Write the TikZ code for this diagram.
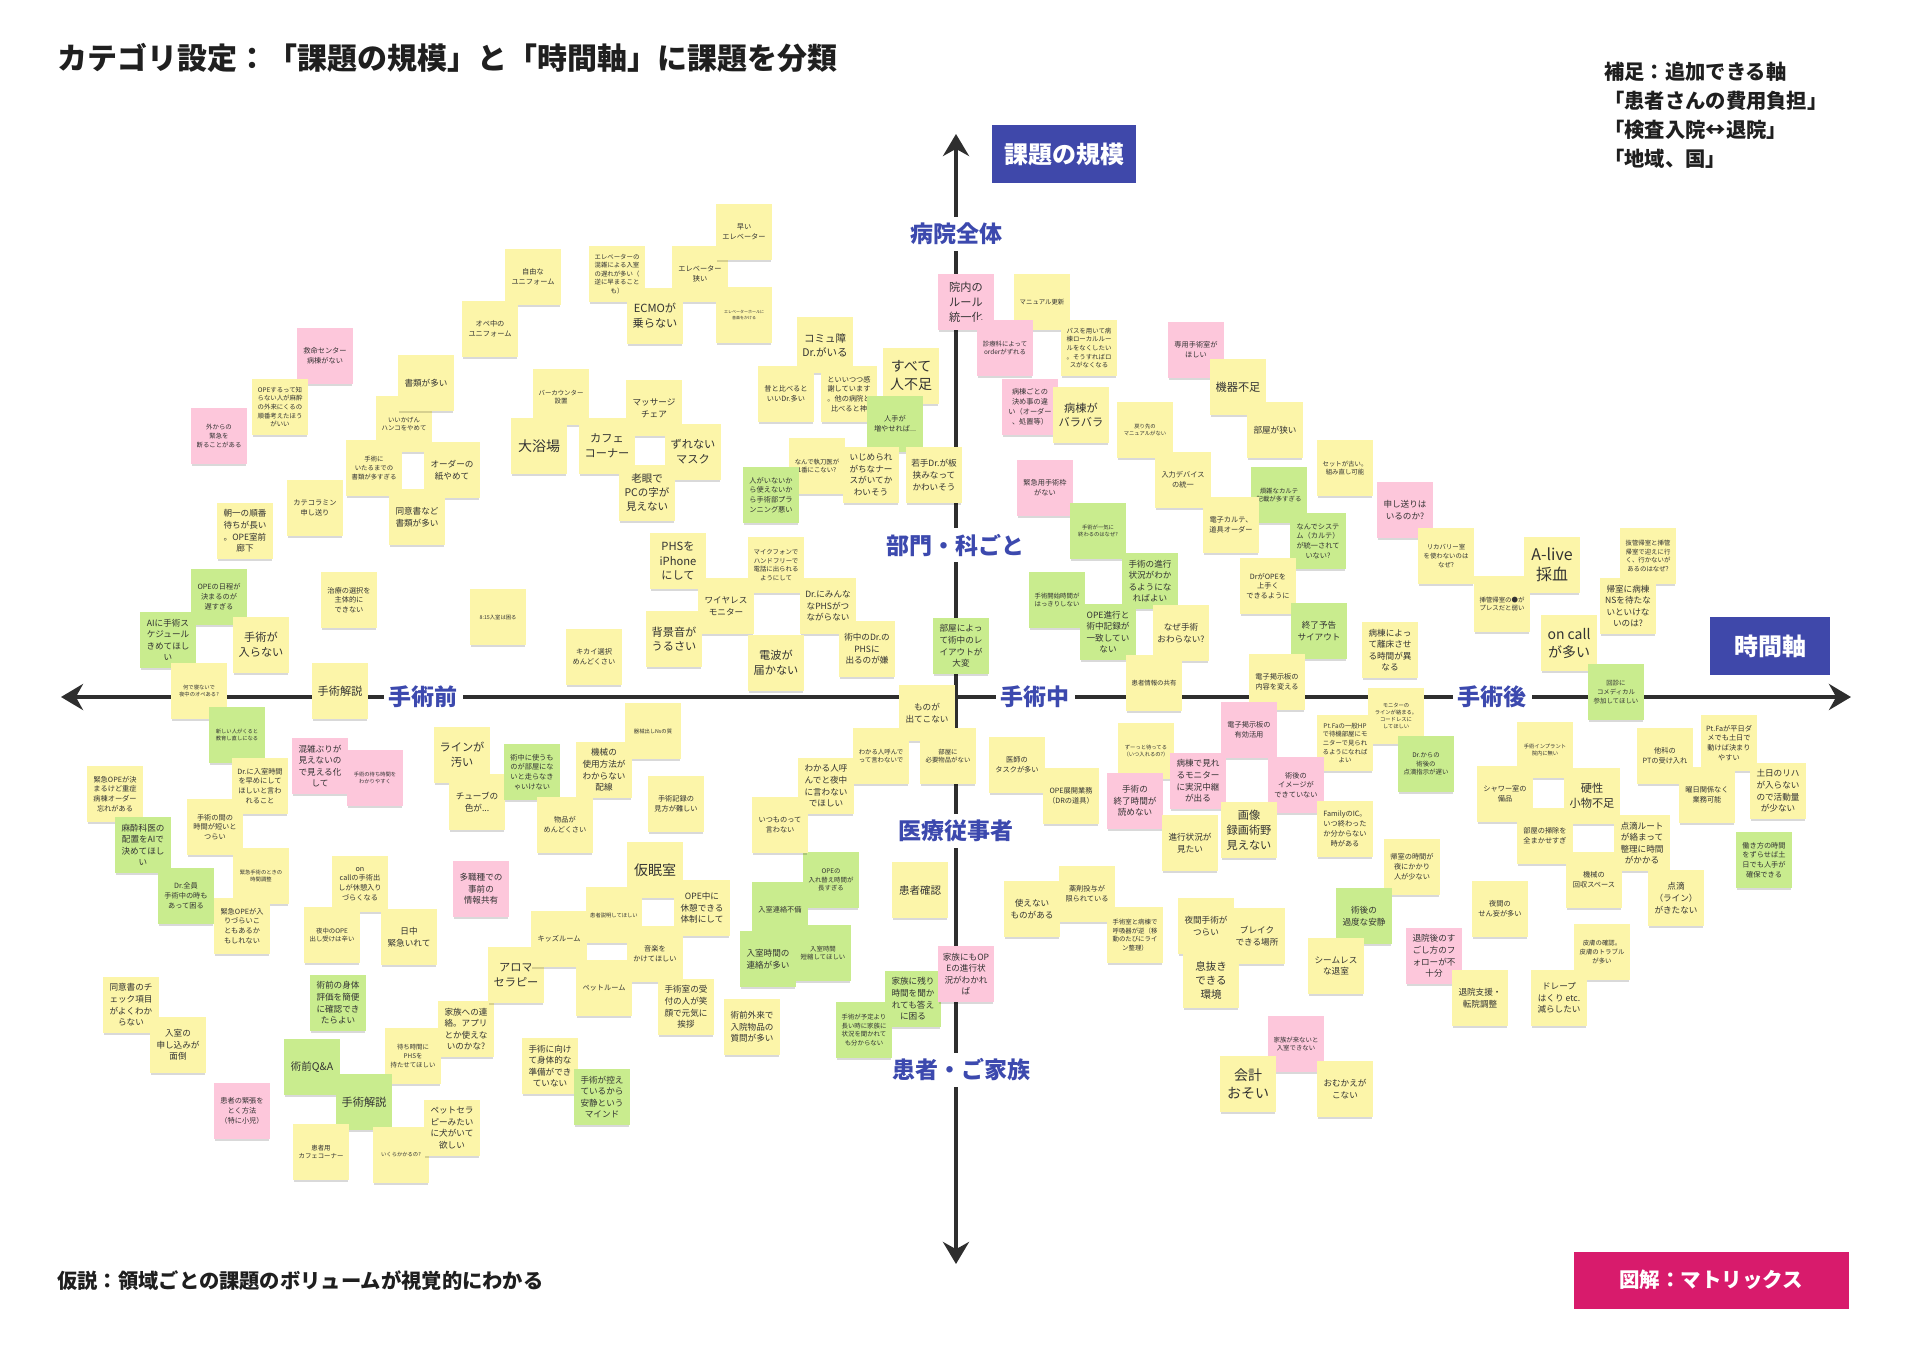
\documentclass[tikz,border=0pt]{standalone}
\usepackage{fontspec}
\setmainfont{Noto Sans CJK JP}
\usetikzlibrary{arrows.meta,shadows}
\definecolor{yel}{HTML}{FCF5A9}
\definecolor{grn}{HTML}{C9EC8E}
\definecolor{pnk}{HTML}{FDC7DB}
\definecolor{axisblue}{HTML}{3C49AE}
\definecolor{boxblue}{HTML}{3F48AA}
\definecolor{boxpink}{HTML}{D81B6C}
\definecolor{ink}{HTML}{333333}
\definecolor{axisgray}{HTML}{2E2E2E}
\tikzset{
  note/.style={rectangle, minimum width=56pt, minimum height=56pt, inner sep=0pt,
    align=center, text=ink,
    drop shadow={shadow xshift=0pt, shadow yshift=-3pt, opacity=0.15, fill=black, shadow scale=0.96}},
  ny/.style={fill=yel}, ng/.style={fill=grn}, np/.style={fill=pnk},
  t0/.style={font=\fontsize{4}{5.5}\selectfont},
  t1/.style={font=\fontsize{5.3}{7.2}\selectfont},
  t2/.style={font=\fontsize{6.4}{8.6}\selectfont},
  t3/.style={font=\fontsize{7.2}{9.8}\selectfont},
  t4/.style={font=\fontsize{8.6}{11.6}\selectfont},
  t5/.style={font=\fontsize{10.5}{14}\selectfont},
  t6/.style={font=\fontsize{11.2}{14.8}\selectfont},
  t7/.style={font=\fontsize{14}{18}\selectfont},
  t8/.style={font=\fontsize{16}{20}\selectfont},
  axisline/.style={line width=4.5pt, draw=axisgray,
    {Stealth[length=22pt,width=26pt]}-{Stealth[length=22pt,width=26pt]}},
  axlab/.style={fill=white, text=axisblue, font=\bfseries\fontsize{23}{28}\selectfont,
    inner xsep=5pt, inner ysep=6pt},
  headbox/.style={text=white, font=\bfseries\fontsize{24}{28}\selectfont, inner sep=0pt},
}
\newcommand{\stick}[6]{\node[note,#2,#5] (#1) at (#3,#4) {#6};}
\begin{document}
\begin{tikzpicture}[x=1pt,y=-1pt]
\useasboundingbox (0,0) rectangle (1909,1350);
\fill[white] (0,0) rectangle (1909,1350);

% title and texts
\node[anchor=west, inner sep=0pt, text=black!88, font=\bfseries\fontsize{30}{36}\selectfont] (title) at (57,58)
  {カテゴリ設定：「課題の規模」と「時間軸」に課題を分類};
\node[anchor=west, inner sep=0pt, text=black!88, font=\bfseries\fontsize{20.3}{26}\selectfont] (hypo) at (57,1281)
  {仮説：領域ごとの課題のボリュームが視覚的にわかる};
\node[anchor=north west, align=left, inner sep=0pt, text=black!88, font=\bfseries\fontsize{20.3}{29}\selectfont] (hosoku) at (1604,62)
  {補足：追加できる軸\\「患者さんの費用負担」\\「検査入院↔退院」\\「地域、国」};

% axes
\coordinate (hl) at (61,697);
\coordinate (hr) at (1851,697);
\coordinate (vt) at (956,134);
\coordinate (vb) at (956,1264);
\draw[axisline] (hl) -- (hr);
\draw[axisline] (vb) -- (vt);

\node[axlab] (lzen) at (956,234) {病院全体};
\node[axlab] (lbu) at (955,545) {部門・科ごと};
\node[axlab] (liryo) at (956,831) {医療従事者};
\node[axlab] (lkan) at (961,1070) {患者・ご家族};
\node[axlab] (lmae) at (423,697) {手術前};
\node[axlab] (lnaka) at (1035,697) {手術中};
\node[axlab] (lato) at (1492,697) {手術後};

\node[headbox, fill=boxblue, minimum width=144pt, minimum height=58pt] (kibo) at (1064,154) {課題の規模};
\node[headbox, fill=boxblue, minimum width=120pt, minimum height=58pt] (jikan) at (1770,646) {時間軸};
\node[headbox, fill=boxpink, minimum width=275pt, minimum height=57pt, font=\bfseries\fontsize{20.5}{24}\selectfont] (zukai) at (1711,1280) {図解：マトリックス};

% sticky notes
\stick{n1}{ny}{533}{277}{t3}{自由な\\ユニフォーム}
\stick{n2}{ny}{490}{329}{t3}{オペ中の\\ユニフォーム}
\stick{n3}{np}{325}{356}{t3}{救命センター\\病棟がない}
\stick{n4}{ny}{280}{407}{t2}{OPEするって知\\らない人が麻酔\\の外来にくるの\\順番考えたほう\\がいい}
\stick{n5}{np}{219}{436}{t2}{外からの\\緊急を\\断ることがある}
\stick{n7}{ny}{404}{424}{t2}{いいかげん\\ハンコをやめて}
\stick{n6}{ny}{426}{383}{t4}{書類が多い}
\stick{n8}{ny}{374}{468}{t2}{手術に\\いたるまでの\\書類が多すぎる}
\stick{n9}{ny}{452}{470}{t4}{オーダーの\\紙やめて}
\stick{n10}{ny}{315}{508}{t3}{カテコラミン\\申し送り}
\stick{n11}{ny}{245}{531}{t4}{朝一の順番\\待ちが長い\\。OPE室前\\廊下}
\stick{n12}{ny}{417}{517}{t4}{同意書など\\書類が多い}
\stick{n13}{ny}{617}{274}{t2}{エレベーターの\\混雑による入室\\の遅れが多い（\\逆に早まること\\も）}
\stick{n14}{ny}{700}{274}{t3}{エレベーター\\狭い}
\stick{n15}{ny}{744}{232}{t3}{早い\\エレベーター}
\stick{n16}{ny}{744}{315}{t0}{エレベーターホールに\\音楽をかける}
\stick{n17}{ny}{655}{316}{t6}{ECMOが\\乗らない}
\stick{n18}{ny}{561}{397}{t2}{バーカウンター\\設置}
\stick{n19}{ny}{539}{446}{t7}{大浴場}
\stick{n20}{ny}{654}{408}{t4}{マッサージ\\チェア}
\stick{n21}{ny}{607}{446}{t6}{カフェ\\コーナー}
\stick{n22}{ny}{693}{452}{t6}{ずれない\\マスク}
\stick{n23}{ny}{647}{493}{t5}{老眼で\\PCの字が\\見えない}
\stick{n24}{ny}{825}{345}{t5}{コミュ障\\Dr.がいる}
\stick{n25}{ny}{786}{394}{t3}{昔と比べると\\いいDr.多い}
\stick{n26}{ny}{849}{394}{t3}{といいつつ感\\謝しています\\。他の病院と\\比べると神}
\stick{n27}{ny}{911}{376}{t7}{すべて\\人不足}
\stick{n28}{ng}{895}{424}{t3}{人手が\\増やせれば...}
\stick{n29}{ny}{817}{466}{t2}{なんで執刀医が\\1番にこない?}
\stick{n30}{ng}{771}{495}{t3}{人がいないか\\ら使えないか\\ら手術部プラ\\ンニング悪い}
\stick{n31}{ny}{871}{475}{t4}{いじめられ\\がちなナー\\スがいてか\\わいそう}
\stick{n32}{ny}{934}{475}{t4}{若手Dr.が板\\挟みなって\\かわいそう}
\stick{n33}{np}{966}{302}{t6}{院内の\\ルール\\統一化}
\stick{n34}{ny}{1042}{302}{t2}{マニュアル更新}
\stick{n35}{np}{1005}{348}{t2}{診療科によって\\orderがずれる}
\stick{n36}{ny}{1089}{348}{t2}{パスを用いて病\\棟ローカルルー\\ルをなくしたい\\。そうすればロ\\スがなくなる}
\stick{n37}{np}{1030}{407}{t3}{病棟ごとの\\決め事の違\\い（オーダー\\、処置等）}
\stick{n38}{ny}{1081}{415}{t6}{病棟が\\バラバラ}
\stick{n39}{ny}{1145}{430}{t1}{戻り先の\\マニュアルがない}
\stick{n40}{np}{1196}{350}{t3}{専用手術室が\\ほしい}
\stick{n41}{ny}{1238}{387}{t6}{機器不足}
\stick{n42}{ny}{1275}{430}{t4}{部屋が狭い}
\stick{n43}{ny}{1183}{480}{t3}{入力デバイス\\の統一}
\stick{n44}{ny}{1345}{468}{t2}{セットが古い。\\組み直し可能}
\stick{n45}{ng}{1279}{495}{t2}{煩雑なカルテ\\記載が多すぎる}
\stick{n46}{np}{1045}{488}{t3}{緊急用手術枠\\がない}
\stick{n47}{np}{1405}{510}{t4}{申し送りは\\いるのか?}
\stick{n48}{ng}{1098}{531}{t1}{手術が一気に\\終わるのはなぜ?}
\stick{n49}{ny}{1231}{525}{t3}{電子カルテ、\\道具オーダー}
\stick{n50}{ng}{1318}{541}{t3}{なんでシステ\\ム（カルテ）\\が統一されて\\いない?}
\stick{n51}{ng}{219}{597}{t3}{OPEの日程が\\決まるのが\\遅すぎる}
\stick{n52}{ng}{168}{640}{t4}{AIに手術ス\\ケジュール\\きめてほし\\い}
\stick{n53}{ny}{261}{645}{t6}{手術が\\入らない}
\stick{n54}{ny}{349}{600}{t3}{治療の選択を\\主体的に\\できない}
\stick{n55}{ny}{498}{617}{t1}{8:15入室は困る}
\stick{n56}{ny}{199}{691}{t1}{何で寝ないで\\夜中のオペある?}
\stick{n57}{ny}{340}{691}{t6}{手術解説}
\stick{n58}{ng}{237}{735}{t1}{新しい人がくると\\教育し直しになる}
\stick{n59}{np}{320}{766}{t4}{混雑ぶりが\\見えないの\\で見える化\\して}
\stick{n60}{np}{375}{778}{t1}{手術の待ち時間を\\わかりやすく}
\stick{n61}{ny}{462}{755}{t6}{ラインが\\汚い}
\stick{n62}{ny}{477}{802}{t4}{チューブの\\色が...}
\stick{n63}{ng}{532}{772}{t3}{術中に使うも\\のが部屋にな\\いと走らなき\\ゃいけない}
\stick{n64}{ny}{260}{786}{t3}{Dr.に入室時間\\を早めにして\\ほしいと言わ\\れること}
\stick{n65}{ny}{115}{794}{t3}{緊急OPEが決\\まるけど重症\\病棟オーダー\\忘れがある}
\stick{n66}{ny}{215}{827}{t3}{手術の間の\\時間が短いと\\つらい}
\stick{n67}{ng}{143}{845}{t4}{麻酔科医の\\配置をAIで\\決めてほし\\い}
\stick{n68}{ny}{261}{876}{t1}{緊急手術のときの\\時間調整}
\stick{n69}{ny}{360}{884}{t3}{on\\callの手術出\\しが休憩入り\\づらくなる}
\stick{n70}{np}{481}{889}{t4}{多職種での\\事前の\\情報共有}
\stick{n71}{ng}{186}{896}{t3}{Dr.全員\\手術中の時も\\あって困る}
\stick{n72}{ny}{242}{926}{t3}{緊急OPEが入\\りづらいこ\\ともあるか\\もしれない}
\stick{n73}{ny}{332}{935}{t2}{夜中のOPE\\出し受けは辛い}
\stick{n74}{ny}{409}{937}{t4}{日中\\緊急いれて}
\stick{n75}{ng}{338}{1003}{t4}{術前の身体\\評価を簡便\\に確認でき\\たらよい}
\stick{n76}{ny}{131}{1005}{t4}{同意書のチ\\ェック項目\\がよくわか\\らない}
\stick{n77}{ny}{178}{1045}{t4}{入室の\\申し込みが\\面倒}
\stick{n78}{ny}{466}{1029}{t4}{家族への連\\絡。アプリ\\とか使えな\\いのかな?}
\stick{n79}{ny}{413}{1056}{t2}{待ち時間に\\PHSを\\持たせてほしい}
\stick{n80}{ng}{312}{1067}{t5}{術前Q\&A}
\stick{n81}{ng}{364}{1102}{t6}{手術解説}
\stick{n82}{np}{242}{1111}{t3}{患者の緊張を\\とく方法\\（特に小児）}
\stick{n83}{ny}{321}{1152}{t2}{患者用\\カフェコーナー}
\stick{n84}{ny}{401}{1155}{t1}{いくらかかるの?}
\stick{n85}{ny}{452}{1128}{t4}{ペットセラ\\ピーみたい\\に犬がいて\\欲しい}
\stick{n86}{ny}{516}{975}{t6}{アロマ\\セラピー}
\stick{n87}{ny}{655}{870}{t7}{仮眠室}
\stick{n88}{ny}{614}{915}{t1}{患者説明してほしい}
\stick{n89}{ny}{702}{908}{t4}{OPE中に\\休憩できる\\体制にして}
\stick{n90}{ny}{559}{939}{t3}{キッズルーム}
\stick{n91}{ny}{655}{954}{t3}{音楽を\\かけてほしい}
\stick{n92}{ny}{604}{988}{t3}{ペットルーム}
\stick{n93}{ny}{686}{1007}{t4}{手術室の受\\付の人が笑\\顔で元気に\\挨拶}
\stick{n94}{ny}{550}{1066}{t4}{手術に向け\\て身体的な\\準備ができ\\ていない}
\stick{n95}{ng}{602}{1097}{t4}{手術が控え\\ているから\\安静という\\マインド}
\stick{n96}{ny}{752}{1027}{t4}{術前外来で\\入院物品の\\質問が多い}
\stick{n97}{ng}{831}{880}{t2}{OPEの\\入れ替え時間が\\長すぎる}
\stick{n98}{ng}{780}{910}{t3}{入室連絡不備}
\stick{n99}{ng}{768}{959}{t4}{入室時間の\\連絡が多い}
\stick{n100}{ng}{823}{953}{t2}{入室時間\\短縮してほしい}
\stick{n101}{ny}{920}{890}{t5}{患者確認}
\stick{n102}{ng}{913}{999}{t4}{家族に残り\\時間を聞か\\れても答え\\に困る}
\stick{n103}{ng}{864}{1030}{t2}{手術が予定より\\長い時に家族に\\状況を聞かれて\\も分からない}
\stick{n104}{np}{966}{974}{t4}{家族にもOP\\Eの進行状\\況がわかれ\\ば}
\stick{n105}{ny}{678}{561}{t6}{PHSを\\iPhone\\にして}
\stick{n106}{ny}{776}{565}{t2}{マイクフォンで\\ハンドフリーで\\電話に出られる\\ようにして}
\stick{n107}{ny}{726}{606}{t4}{ワイヤレス\\モニター}
\stick{n108}{ny}{828}{606}{t4}{Dr.にみんな\\なPHSがつ\\ながらない}
\stick{n109}{ny}{674}{639}{t6}{背景音が\\うるさい}
\stick{n110}{ny}{594}{657}{t3}{キカイ選択\\めんどくさい}
\stick{n111}{ny}{776}{663}{t6}{電波が\\届かない}
\stick{n112}{ny}{867}{649}{t4}{術中のDr.の\\PHSに\\出るのが嫌}
\stick{n113}{ng}{961}{646}{t4}{部屋によっ\\て術中のレ\\イアウトが\\大変}
\stick{n114}{ny}{927}{713}{t4}{ものが\\出てこない}
\stick{n115}{ny}{653}{731}{t1}{器械出しNsの質}
\stick{n116}{ny}{604}{770}{t4}{機械の\\使用方法が\\わからない\\配線}
\stick{n117}{ny}{565}{825}{t3}{物品が\\めんどくさい}
\stick{n118}{ny}{676}{804}{t3}{手術記録の\\見方が難しい}
\stick{n119}{ny}{881}{756}{t2}{わかる人呼んで\\って言わないで}
\stick{n120}{ny}{948}{756}{t2}{部屋に\\必要物品がない}
\stick{n121}{ny}{826}{786}{t4}{わかる人呼\\んでと夜中\\に言わない\\でほしい}
\stick{n122}{ny}{780}{825}{t3}{いつものって\\言わない}
\stick{n123}{ng}{1057}{600}{t2}{手術開始時間が\\はっきりしない}
\stick{n124}{ng}{1150}{581}{t4}{手術の進行\\状況がわか\\るようにな\\ればよい}
\stick{n125}{ng}{1108}{632}{t4}{OPE進行と\\術中記録が\\一致してい\\ない}
\stick{n126}{ny}{1181}{633}{t4}{なぜ手術\\おわらない?}
\stick{n127}{ny}{1154}{683}{t2}{患者情報の共有}
\stick{n128}{ny}{1268}{586}{t3}{DrがOPEを\\上手く\\できるように}
\stick{n129}{ng}{1319}{631}{t4}{終了予告\\サイアウト}
\stick{n130}{ny}{1277}{682}{t3}{電子掲示板の\\内容を変える}
\stick{n131}{ny}{1390}{650}{t4}{病棟によっ\\て離床させ\\る時間が異\\なる}
\stick{n132}{ny}{1396}{716}{t1}{モニターの\\ラインが絡まる。\\コードレスに\\してほしい}
\stick{n133}{np}{1249}{730}{t3}{電子掲示板の\\有効活用}
\stick{n134}{ny}{1345}{743}{t2}{Pt.Faの一般HP\\で待機部屋にモ\\ニターで見られ\\るようになれば\\よい}
\stick{n135}{ng}{1426}{764}{t2}{Dr.からの\\術後の\\点滴指示が遅い}
\stick{n136}{ny}{1146}{751}{t1}{ずーっと待ってる\\（いつ入れるの?）}
\stick{n137}{ny}{1017}{765}{t3}{医師の\\タスクが多い}
\stick{n138}{ny}{1071}{796}{t3}{OPE展開業務\\（DRの道具）}
\stick{n139}{np}{1135}{801}{t4}{手術の\\終了時間が\\読めない}
\stick{n140}{np}{1198}{781}{t4}{病棟で見れ\\るモニター\\に実況中継\\が出る}
\stick{n141}{np}{1296}{785}{t3}{術後の\\イメージが\\できていない}
\stick{n142}{ny}{1249}{830}{t6}{画像\\録画術野\\見えない}
\stick{n143}{ny}{1190}{843}{t4}{進行状況が\\見たい}
\stick{n144}{ny}{1345}{829}{t3}{FamilyのIC。\\いつ終わった\\か分からない\\時がある}
\stick{n145}{ny}{1412}{867}{t3}{帰室の時間が\\夜にかかり\\人が少ない}
\stick{n146}{ny}{1032}{909}{t4}{使えない\\ものがある}
\stick{n147}{ny}{1087}{894}{t3}{薬剤投与が\\限られている}
\stick{n148}{ny}{1135}{935}{t2}{手術室と病棟で\\呼吸器が逆（移\\動のたびにライ\\ン整理）}
\stick{n149}{ny}{1206}{926}{t4}{夜間手術が\\つらい}
\stick{n150}{ny}{1257}{936}{t4}{ブレイク\\できる場所}
\stick{n151}{ny}{1211}{980}{t5}{息抜き\\できる\\環境}
\stick{n152}{ng}{1364}{916}{t4}{術後の\\過度な安静}
\stick{n153}{ny}{1336}{966}{t4}{シームレス\\な退室}
\stick{n154}{np}{1434}{956}{t4}{退院後のす\\ごし方のフ\\ォローが不\\十分}
\stick{n155}{np}{1296}{1044}{t2}{家族が来ないと\\入室できない}
\stick{n156}{ny}{1248}{1084}{t7}{会計\\おそい}
\stick{n157}{ny}{1345}{1089}{t4}{おむかえが\\こない}
\stick{n158}{ny}{1446}{556}{t2}{リカバリー室\\を使わないのは\\なぜ?}
\stick{n159}{ny}{1552}{565}{t8}{A-live\\採血}
\stick{n160}{ny}{1648}{556}{t2}{抜管帰室と挿管\\帰室で迎えに行\\く、行かないが\\あるのはなぜ?}
\stick{n161}{ny}{1502}{604}{t2}{挿管帰室の●が\\プレスだと弱い}
\stick{n162}{ny}{1628}{606}{t4}{帰室に病棟\\NSを待たな\\いといけな\\いのは?}
\stick{n163}{ny}{1569}{643}{t7}{on call\\が多い}
\stick{n164}{ng}{1616}{692}{t2}{回診に\\コメディカル\\参加してほしい}
\stick{n165}{ny}{1545}{750}{t1}{手術インプラント\\院内に無い}
\stick{n166}{ny}{1505}{794}{t3}{シャワー室の\\備品}
\stick{n167}{ny}{1592}{796}{t6}{硬性\\小物不足}
\stick{n168}{ny}{1665}{756}{t3}{他科の\\PTの受け入れ}
\stick{n169}{ny}{1729}{743}{t3}{Pt.Faが平日ダ\\メでも土日で\\動けば決まり\\やすい}
\stick{n170}{ny}{1707}{795}{t3}{曜日関係なく\\業務可能}
\stick{n171}{ny}{1778}{791}{t4}{土日のリハ\\が入らない\\ので活動量\\が少ない}
\stick{n172}{ny}{1545}{836}{t3}{部屋の掃除を\\全まかせすぎ}
\stick{n173}{ny}{1642}{843}{t4}{点滴ルート\\が絡まって\\整理に時間\\がかかる}
\stick{n174}{ng}{1764}{860}{t3}{働き方の時間\\をずらせば土\\日でも人手が\\確保できる}
\stick{n175}{ny}{1594}{880}{t3}{機械の\\回収スペース}
\stick{n176}{ny}{1500}{909}{t3}{夜間の\\せん妄が多い}
\stick{n177}{ny}{1676}{898}{t4}{点滴\\（ライン）\\がきたない}
\stick{n178}{ny}{1602}{952}{t2}{皮膚の確認。\\皮膚のトラブル\\が多い}
\stick{n179}{ny}{1480}{998}{t4}{退院支援・\\転院調整}
\stick{n180}{ny}{1559}{998}{t4}{ドレープ\\はくり etc.\\減らしたい}
\end{tikzpicture}
\end{document}
